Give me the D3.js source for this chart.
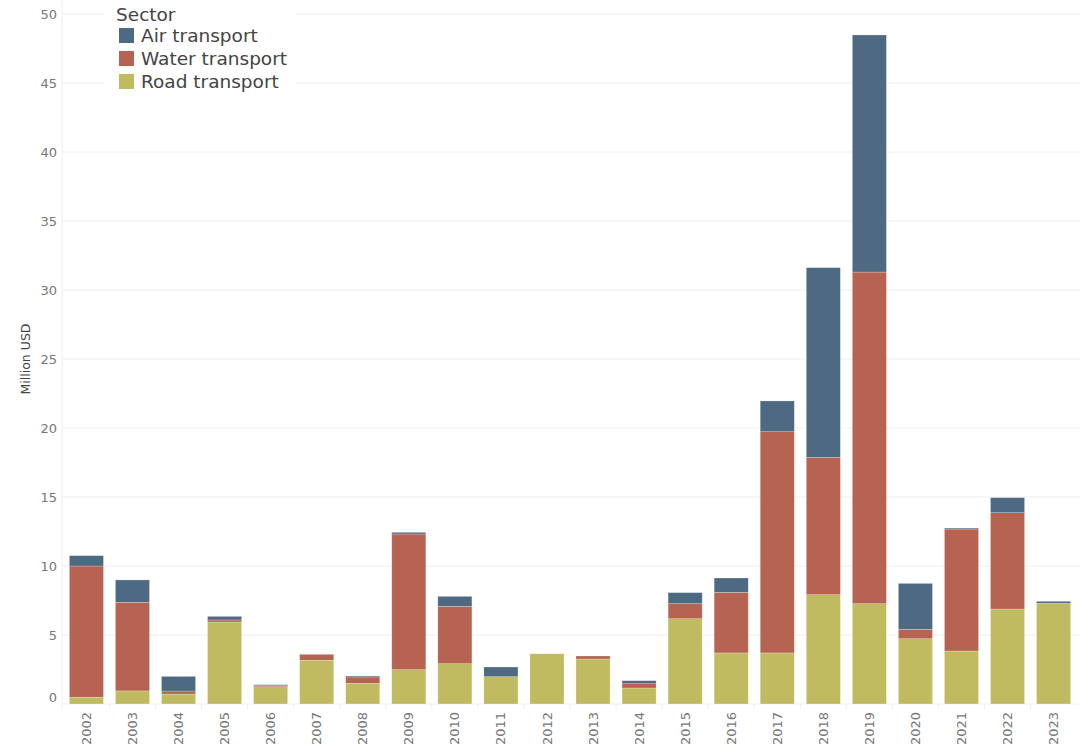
<!DOCTYPE html>
<html>
<head>
<meta charset="utf-8">
<script src="https://cdn.jsdelivr.net/npm/d3@7"></script>
<style>
  html, body { margin: 0; padding: 0; background: #fff; }
  svg { display: block; font-family: "DejaVu Sans", Verdana, sans-serif; }
</style>
</head>
<body>
<svg id="chart" width="1080" height="745"></svg>
<script>
// Annual values in million USD, by transport sector
const years = ["2002","2003","2004","2005","2006","2007","2008","2009","2010","2011","2012",
               "2013","2014","2015","2016","2017","2018","2019","2020","2021","2022","2023"];
const roadTransport  = [0.49, 0.95, 0.72, 5.94, 1.25, 3.17, 1.50, 2.49, 2.92, 1.98, 3.64,
                        3.26, 1.16, 6.18, 3.70, 3.70, 7.92, 7.27, 4.73, 3.84, 6.88, 7.30];
const waterTransport = [9.51, 6.42, 0.22, 0.15, 0.08, 0.43, 0.46, 9.83, 4.16, 0.00, 0.00,
                        0.22, 0.31, 1.09, 4.39, 16.03, 9.95, 24.03, 0.68, 8.84, 6.98, 0.00];
const airTransport   = [0.75, 1.62, 1.06, 0.26, 0.07, 0.00, 0.07, 0.12, 0.72, 0.70, 0.00,
                        0.00, 0.22, 0.80, 1.04, 2.23, 13.75, 17.18, 3.33, 0.07, 1.09, 0.14];
const sectors = ["Road transport", "Water transport", "Air transport"];
const legendOrder = ["Air transport", "Water transport", "Road transport"];
const yTicks = [0, 5, 10, 15, 20, 25, 30, 35, 40, 45, 50];

const colors = {
  "Air transport": "#4e6982",
  "Water transport": "#b76352",
  "Road transport": "#c0bb60"
};

const rows = years.map((y, i) => ({
  year: y,
  "Road transport": roadTransport[i],
  "Water transport": waterTransport[i],
  "Air transport": airTransport[i]
}));

const svg = d3.select("#chart");
const plotLeft = 62, plotRight = 1078, plotTop = 14, plotBottom = 704;

const x = d3.scaleBand().domain(years).range([plotLeft, plotRight]).paddingInner(0.26).paddingOuter(0.16);
const y = d3.scaleLinear().domain([0, 50]).range([plotBottom, plotTop]);

// horizontal grid
svg.append("g")
  .selectAll("line")
  .data(yTicks)
  .join("line")
  .attr("x1", plotLeft).attr("x2", 1080)
  .attr("y1", d => y(d)).attr("y2", d => y(d))
  .attr("stroke", "#f0f0f0").attr("stroke-width", 1);

// left axis line
svg.append("line")
  .attr("x1", plotLeft).attr("x2", plotLeft).attr("y1", 0).attr("y2", plotBottom + 5)
  .attr("stroke", "#f0f0f0");

// small ticks between bands
const boundaries = years.map(d => x(d) - x.step() * x.paddingInner() / 2);
svg.append("g").selectAll("line")
  .data(boundaries.slice(1))
  .join("line")
  .attr("x1", d => d).attr("x2", d => d)
  .attr("y1", plotBottom).attr("y2", plotBottom + 5)
  .attr("stroke", "#eeeeee");

// y axis labels (the zero label sits a little above the baseline)
const yAxis = d3.axisLeft(y).tickValues(yTicks).tickSize(0).tickPadding(5);
svg.append("g")
  .attr("transform", `translate(${plotLeft},0)`)
  .call(yAxis)
  .call(g => g.select(".domain").remove())
  .call(g => g.selectAll("text").attr("fill", "#777").attr("font-size", 13)
    .attr("font-family", "DejaVu Sans, sans-serif")
    .attr("y", d => d === 0 ? -7 : 0));

svg.append("text")
  .attr("transform", `translate(30,${(plotTop + plotBottom) / 2}) rotate(-90)`)
  .attr("text-anchor", "middle")
  .attr("font-size", 12.5)
  .attr("fill", "#444")
  .text("Million USD");

// x axis labels
const xAxis = d3.axisBottom(x).tickSize(0).tickPadding(0);
svg.append("g")
  .attr("transform", `translate(0,${plotBottom})`)
  .call(xAxis)
  .call(g => g.select(".domain").remove())
  .call(g => g.selectAll("text")
    .attr("fill", "#777").attr("font-size", 13)
    .attr("font-family", "DejaVu Sans, sans-serif")
    .attr("transform", "rotate(-90)")
    .attr("text-anchor", "end")
    .attr("x", -8).attr("y", 0).attr("dy", "0.35em"));

// stacked bars
const stack = d3.stack().keys(sectors)(rows);
svg.append("g")
  .selectAll("g")
  .data(stack)
  .join("g")
  .attr("fill", d => colors[d.key])
  .selectAll("rect")
  .data(d => d.filter(p => p[1] - p[0] > 0))
  .join("rect")
  .attr("x", d => x(d.data.year))
  .attr("width", x.bandwidth())
  .attr("y", d => y(d[1]))
  .attr("height", d => y(d[0]) - y(d[1]))
  .attr("stroke", "rgba(255,255,255,0.4)")
  .attr("stroke-width", 0.6);

// legend
const lg = svg.append("g");
lg.append("rect").attr("x", 105).attr("y", 0).attr("width", 190).attr("height", 96).attr("fill", "#fff");
lg.append("text").attr("x", 116).attr("y", 21).attr("font-size", 18.5).attr("fill", "#444").text("Sector");
const items = lg.selectAll("g.item").data(legendOrder).join("g")
  .attr("transform", (d, i) => `translate(119,${28 + i * 23})`);
items.append("rect").attr("width", 15).attr("height", 15).attr("fill", d => colors[d]);
items.append("text").attr("x", 22).attr("y", 14).attr("font-size", 18.5).attr("fill", "#444").text(d => d);
</script>
</body>
</html>
